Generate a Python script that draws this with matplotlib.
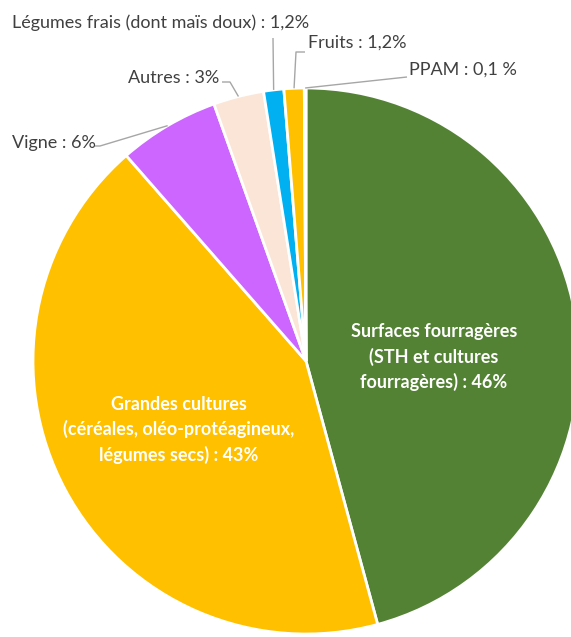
import numpy as np
import matplotlib.pyplot as plt

plt.rcParams['font.family'] = ['Lato', 'DejaVu Sans']

# data
categories = ["Surfaces fourragères", "Grandes cultures", "Vigne", "Autres",
              "Légumes frais", "Fruits", "PPAM"]
values = [46, 43, 6, 3, 1.2, 1.2, 0.1]
colors = ['#548235', '#FFC000', '#CC66FF', '#FBE5D6', '#00B0F0', '#FFC000', '#E9B9A5']

inner_labels = {0: "Surfaces fourragères\n(STH et cultures\nfourragères) : 46%",
                1: "Grandes cultures\n(céréales, oléo-protéagineux,\nlégumes secs) : 43%"}
outer_labels = {2: "Vigne : 6%", 3: "Autres : 3%",
                4: "Légumes frais (dont maïs doux) : 1,2%",
                5: "Fruits : 1,2%", 6: "PPAM : 0,1 %"}

W, H = 571, 637
fig = plt.figure(figsize=(W / 100, H / 100), dpi=100)
ax = fig.add_axes([0, 0, 1, 1])

cx, cy, r = 306, H - 361, 273
wedges, _ = ax.pie(values, colors=colors, startangle=90, counterclock=False,
                   center=(cx, cy), radius=r, frame=True,
                   wedgeprops=dict(edgecolor='white', linewidth=2))
ax.set_xlim(0, W)
ax.set_ylim(0, H)
ax.set_aspect('equal')
ax.axis('off')

# inner labels
ax.text(434, H - 357, inner_labels[0], ha='center', va='center', color='white',
        fontsize=13, fontweight='bold', linespacing=1.5)
ax.text(179, H - 430, inner_labels[1], ha='center', va='center', color='white',
        fontsize=13, fontweight='bold', linespacing=1.5)

# outer labels: text position, elbow points (pixels)
layout = {
    2: ((12, 143), [(100, 146), (95, 146)]),
    3: ((128, 78), [(230, 82), (222, 82)]),
    4: ((12, 23), [(273, 38)]),
    5: ((308, 43), [(296, 52), (305, 52)]),
    6: ((409, 70), [(407, 77)]),
}
for i, txt in outer_labels.items():
    w = wedges[i]
    mid = np.deg2rad((w.theta1 + w.theta2) / 2)
    start = (cx + r * np.cos(mid), cy + r * np.sin(mid))
    (tx, ty), elbows = layout[i]
    pts = [start] + [(ex, H - ey) for ex, ey in elbows]
    xs, ys = zip(*pts)
    ax.plot(xs, ys, color='#A6A6A6', linewidth=1, solid_capstyle='butt')
    ax.text(tx, H - ty, txt, ha='left', va='center', fontsize=13, color='#404040')

fig.savefig('out.png', dpi=100)
